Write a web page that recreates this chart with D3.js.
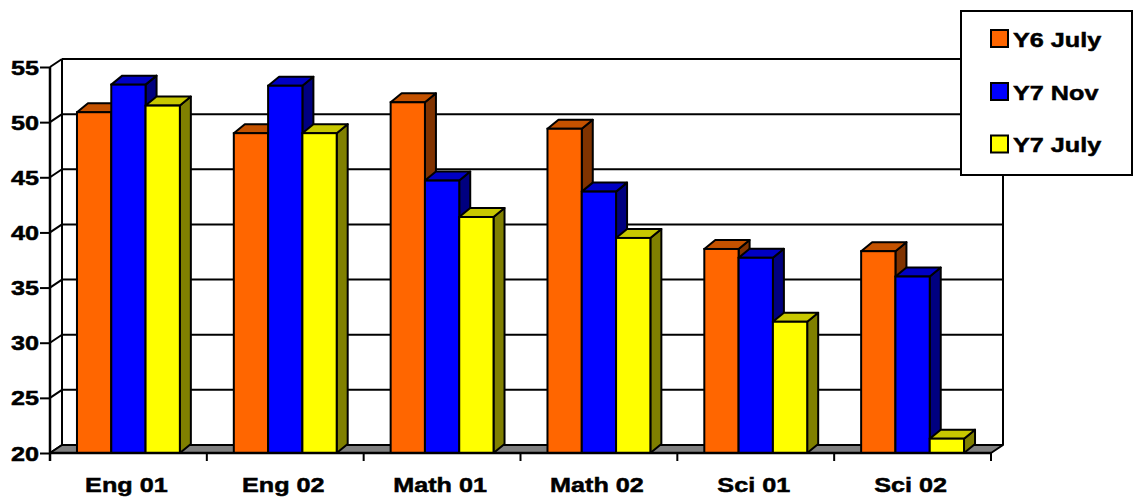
<!DOCTYPE html>
<html>
<head>
<meta charset="utf-8">
<script src="https://cdn.jsdelivr.net/npm/d3@7"></script>
<style>
  html, body { margin: 0; padding: 0; background: #fff; }
  svg { display: block; }
  text { font-family: "Liberation Sans", Arial, sans-serif; font-weight: bold; fill: #000;
         stroke: #000; stroke-width: 0.5px; }
</style>
</head>
<body>
<svg id="chart" width="1134" height="497"></svg>
<script>
// Test scores by paper, three sittings
const categories = ["Eng 01", "Eng 02", "Math 01", "Math 02", "Sci 01", "Sci 02"];
const seriesNames = ["Y6 July", "Y7 Nov", "Y7 July"];
const y6July = [50.9, 49.0, 51.8, 49.4, 38.5, 38.3];
const y7Nov  = [53.4, 53.3, 44.7, 43.7, 37.7, 36.0];
const y7July = [51.5, 49.0, 41.4, 39.5, 31.9, 21.3];
const yTicks = [20, 25, 30, 35, 40, 45, 50, 55];

const seriesValues = [y6July, y7Nov, y7July];
const faceColors = [
  { front: "#FF6600", top: "#C45200", side: "#803300" },
  { front: "#0000FF", top: "#0000C4", side: "#000080" },
  { front: "#FFFF00", top: "#C8C800", side: "#808000" }
];

const svg = d3.select("#chart");

// Plot frame (front plane) and 3D depth offsets
const left = 50, right = 991, base = 453, topY = 67;
const wallDx = 12, wallDy = -8;
const barDx = 11, barDy = -9;
const textStretch = 1.2;

const y = d3.scaleLinear().domain([20, 55]).range([base, topY]);
const x = d3.scaleBand().domain(categories).range([left, right])
  .paddingInner(0.344).paddingOuter(0.172);
const xs = d3.scaleBand().domain(seriesNames).range([0, x.bandwidth()]);

const pts = a => a.map(p => p.join(",")).join(" ");

// Back wall
const wall = svg.append("g");
wall.append("rect")
  .attr("x", left + wallDx).attr("y", y(55) + wallDy)
  .attr("width", right - left).attr("height", base - y(55))
  .attr("fill", "#fff");

// Gridlines on back wall plus their continuation across the left wall
yTicks.forEach(v => {
  wall.append("line")
    .attr("x1", left + wallDx).attr("x2", right + wallDx)
    .attr("y1", y(v) + wallDy).attr("y2", y(v) + wallDy)
    .attr("stroke", "#000").attr("stroke-width", 2);
  wall.append("line")
    .attr("x1", left).attr("x2", left + wallDx)
    .attr("y1", y(v)).attr("y2", y(v) + wallDy)
    .attr("stroke", "#000").attr("stroke-width", 2);
});
// Left-wall back edge and right edge of back wall
wall.append("line")
  .attr("x1", left + wallDx).attr("x2", left + wallDx)
  .attr("y1", y(55) + wallDy).attr("y2", base + wallDy)
  .attr("stroke", "#000").attr("stroke-width", 2);
wall.append("line")
  .attr("x1", right + wallDx).attr("x2", right + wallDx)
  .attr("y1", y(55) + wallDy).attr("y2", base + wallDy)
  .attr("stroke", "#000").attr("stroke-width", 2);

// Floor
wall.append("polygon")
  .attr("points", pts([[left, base], [left + wallDx, base + wallDy],
                       [right + wallDx, base + wallDy], [right, base]]))
  .attr("fill", "#808080").attr("stroke", "#000").attr("stroke-width", 2)
  .attr("stroke-linejoin", "round");

// Y axis (front left edge)
const yAxis = d3.axisLeft(y).tickValues(yTicks).tickSize(10).tickPadding(0).tickFormat("");
const yg = svg.append("g").attr("transform", `translate(${left},0)`).call(yAxis);
yg.select(".domain").remove();
yg.selectAll(".tick line").attr("stroke", "#000").attr("stroke-width", 2);
yg.append("line").attr("x1", 0).attr("x2", 0).attr("y1", y(55)).attr("y2", base + 8)
  .attr("stroke", "#000").attr("stroke-width", 2.5);
yTicks.forEach(v => {
  svg.append("text")
    .attr("transform", `translate(39,${y(v) + 7.5}) scale(${textStretch},1)`)
    .attr("text-anchor", "end")
    .attr("font-size", 21)
    .text(v);
});

// Bars, left to right so each front face covers the previous side face
const bars = svg.append("g");
categories.forEach((c, ci) => {
  seriesNames.forEach((s, si) => {
    const v = seriesValues[si][ci];
    const x0 = x(c) + xs(s), x1 = x0 + xs.bandwidth();
    const yt = y(v), yb = y(20);
    const col = faceColors[si];
    bars.append("polygon")
      .attr("points", pts([[x1, yt], [x1 + barDx, yt + barDy], [x1 + barDx, yb + barDy], [x1, yb]]))
      .attr("fill", col.side).attr("stroke", "#000").attr("stroke-width", 2).attr("stroke-linejoin", "round");
    bars.append("polygon")
      .attr("points", pts([[x0, yt], [x0 + barDx, yt + barDy], [x1 + barDx, yt + barDy], [x1, yt]]))
      .attr("fill", col.top).attr("stroke", "#000").attr("stroke-width", 2).attr("stroke-linejoin", "round");
    bars.append("rect")
      .attr("x", x0).attr("y", yt).attr("width", x1 - x0).attr("height", yb - yt)
      .attr("fill", col.front).attr("stroke", "#000").attr("stroke-width", 2);
  });
});

// X axis: front edge, ticks at category boundaries, labels centred
const xg = svg.append("g");
xg.append("line").attr("x1", left).attr("x2", right).attr("y1", base).attr("y2", base)
  .attr("stroke", "#000").attr("stroke-width", 2.5);
d3.range(1, categories.length + 1).forEach(i => {
  const bx = left + i * x.step();
  xg.append("line").attr("x1", bx).attr("x2", bx).attr("y1", base).attr("y2", base + 8)
    .attr("stroke", "#000").attr("stroke-width", 2);
});
categories.forEach(c => {
  xg.append("text")
    .attr("transform", `translate(${x(c) + x.bandwidth() / 2 - 2},491.5) scale(${textStretch},1)`)
    .attr("text-anchor", "middle")
    .attr("font-size", 21)
    .text(c);
});

// Legend
const lg = svg.append("g");
lg.append("rect").attr("x", 961).attr("y", 11).attr("width", 171).attr("height", 164)
  .attr("fill", "#fff").attr("stroke", "#000").attr("stroke-width", 2);
const rowY = [38.5, 91.5, 144];
seriesNames.forEach((s, i) => {
  lg.append("rect").attr("x", 991).attr("y", rowY[i] - 8.5).attr("width", 17).attr("height", 17)
    .attr("fill", faceColors[i].front).attr("stroke", "#000").attr("stroke-width", 2);
  lg.append("text")
    .attr("transform", `translate(1013,${rowY[i] + 8}) scale(${textStretch},1)`)
    .attr("font-size", 21)
    .text(s);
});
</script>
</body>
</html>
